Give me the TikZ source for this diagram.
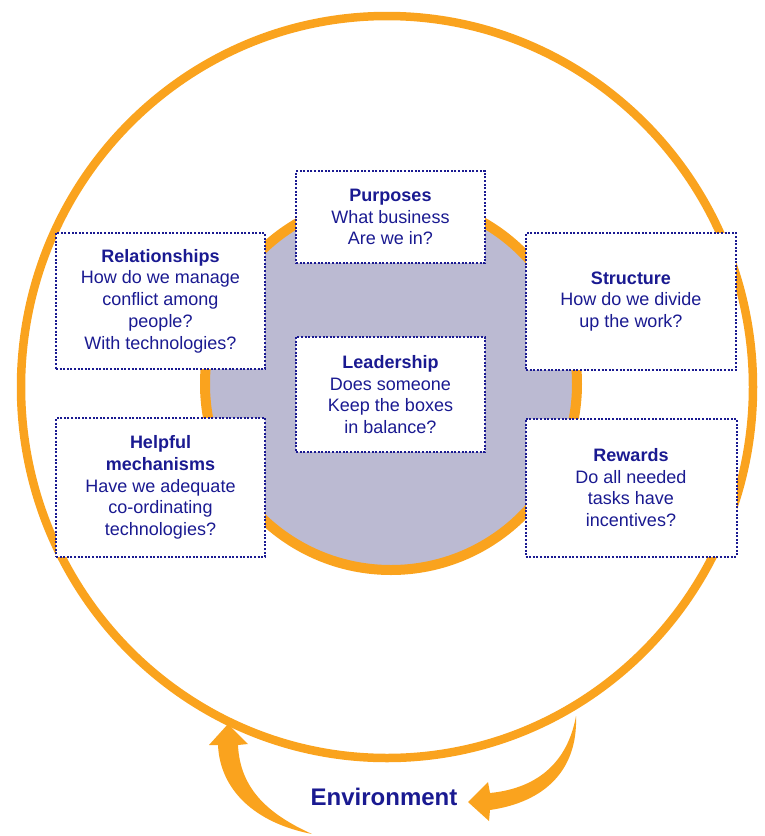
\documentclass[tikz,border=0pt]{standalone}
\usepackage{fontspec}
\setmainfont{Liberation Sans}
\usepackage{tikz}

\definecolor{ringorange}{RGB}{250,163,30}
\definecolor{boxblue}{RGB}{26,26,145}
\definecolor{discfill}{RGB}{187,186,210}

\begin{document}
\begin{tikzpicture}[x=1pt,y=-1pt,
        ring/.style={draw=ringorange,line width=8.5pt},
        box/.style={draw=boxblue,fill=white,line width=2pt,dash pattern=on 2pt off 1.6pt,
                inner sep=0pt,align=center,text=boxblue,font=\fontsize{18}{21.7}\selectfont}]
        \useasboundingbox (0,0) rectangle (765,836);
                % outer world and the organisation
                \draw [ring](387,387) ellipse [x radius=366pt,y radius=371pt];
                \draw [ring,line width=10pt,fill=discfill](391,384) circle [radius=186pt];

                % the six boxes
                \node (purposes) [box,minimum width=189pt,minimum height=92pt] at (390.5,217)
                        {{\bfseries Purposes}\\What business\\Are we in?};
                \node (relations) [box,minimum width=209pt,minimum height=136pt] at (160.5,301)
                        {{\bfseries Relationships}\\How do we manage\\conflict among\\people?\\With technologies?};
                \node (structure) [box,minimum width=210pt,minimum height=137pt] at (631,301.5)
                        {{\bfseries Structure}\\How do we divide\\up the work?};
                \node (leadership) [box,minimum width=189pt,minimum height=115pt] at (390.5,394.5)
                        {{\bfseries Leadership}\\Does someone\\Keep the boxes\\in balance?};
                \node (helpful) [box,minimum width=209pt,minimum height=139pt] at (160.5,487.5)
                        {{\bfseries Helpful}\\{\bfseries mechanisms}\\Have we adequate\\co-ordinating\\technologies?};
                \node (rewards) [box,minimum width=211pt,minimum height=138pt] at (631,487.5)
                        {{\bfseries Rewards}\\Do all needed\\tasks have\\incentives?};

                \node (environment) [text=boxblue,font=\fontsize{24}{28}\selectfont\bfseries] at (384,797) {Environment};

                % arrows to and from the environment
                \fill [ringorange](312,834) .. controls (255,823) and (220,790) .. (218,745)
                        --(209,745)--(228,724)--(248,744)--(238,745)
                        .. controls (240,790) and (270,815) .. (312,834)--cycle;
                \fill [ringorange](576,716) .. controls (578,770) and (545,802) .. (490,810)
                        --(489,821)--(468,802)--(488,782)--(490,793)
                        .. controls (540,788) and (568,760) .. (576,716)--cycle;
\end{tikzpicture}
\end{document}
